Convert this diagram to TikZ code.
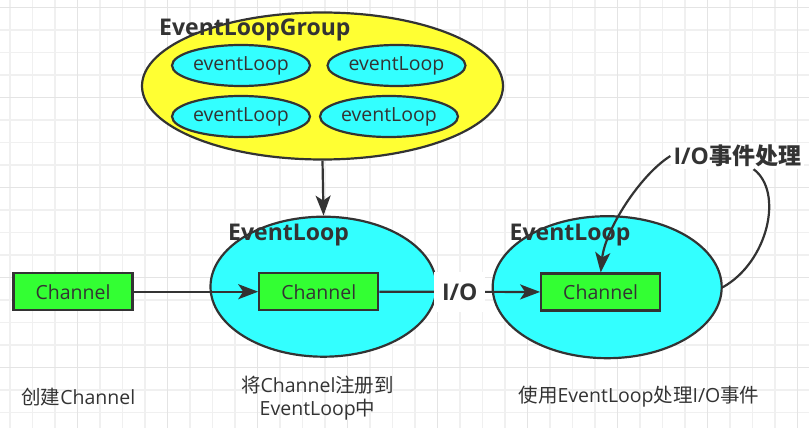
\documentclass[tikz,border=0pt]{standalone}
\usepackage{fontspec}
\setmainfont{Open Sans}
\newfontfamily\cjk{Noto Sans CJK SC}
\usetikzlibrary{shapes.geometric,arrows.meta}
\definecolor{edgec}{HTML}{333333}
\definecolor{txtc}{HTML}{333333}
\definecolor{yellowc}{HTML}{FFFF33}
\definecolor{cyanc}{HTML}{33FFFF}
\definecolor{greenc}{HTML}{33FF33}
\definecolor{gridminor}{HTML}{F0F0F0}
\definecolor{gridmajor}{HTML}{E4E4E4}
\begin{document}
\begin{tikzpicture}[x=1pt,y=-1pt,
  ell/.style={ellipse, draw=edgec, line width=2.2pt, inner sep=0pt},
  small/.style={ell, fill=cyanc, minimum width=138pt, minimum height=41pt,
     text=txtc, font=\fontsize{19.5}{22}\selectfont},
  chbox/.style={rectangle, draw=edgec, line width=2.2pt, fill=greenc,
     minimum width=119pt, minimum height=37pt, inner sep=0pt,
     text=txtc, font=\fontsize{19.5}{22}\selectfont},
  boldlbl/.style={text=txtc, inner sep=0pt, font=\fontsize{23}{26}\selectfont\bfseries},
  note/.style={text=txtc, inner sep=0pt, font=\fontsize{19.5}{22.6}\selectfont, align=center},
  arr/.style={draw=edgec, line width=2.2pt, -{Stealth[length=20pt,width=15pt,inset=5pt]}},
  plain/.style={draw=edgec, line width=2.2pt},
  gmin/.style={draw=gridminor, line width=1.2pt},
  gmaj/.style={draw=gridmajor, line width=1.2pt}]
\useasboundingbox (0,0) rectangle (809,428);
\fill[white] (0,0) rectangle (809,428);
% grid
\foreach \i in {0,...,35} \draw[gmin] (10+22.5*\i,0) -- (10+22.5*\i,428);
\foreach \i in {0,...,18} \draw[gmin] (0,7.5+22.5*\i) -- (809,7.5+22.5*\i);
\foreach \i in {0,...,8} \draw[gmaj] (77.5+90*\i,0) -- (77.5+90*\i,428);
\foreach \i in {0,...,4} \draw[gmaj] (0,7.5+90*\i) -- (809,7.5+90*\i);

% EventLoopGroup
\node[ell, fill=yellowc, minimum width=361pt, minimum height=147pt] (grp) at (322.5,86) {};
\node[boldlbl, anchor=base west] (grpl) at (159,35.5) {EventLoopGroup};
\node[small] (e1) at (241,65.5) {eventLoop};
\node[small] (e2) at (396.5,65.5) {eventLoop};
\node[small] (e3) at (241,116.5) {eventLoop};
\node[small] (e4) at (389,116.5) {eventLoop};

% EventLoops
\node[ell, fill=cyanc, minimum width=226pt, minimum height=140pt] (el1) at (323.5,286.7) {};
\node[boldlbl, anchor=base west] (el1l) at (228,240) {EventLoop};
\node[ell, fill=cyanc, minimum width=229pt, minimum height=142pt] (el2) at (607.2,287.2) {};
\node[boldlbl, anchor=base west] (el2l) at (509.5,240) {EventLoop};

% Channels
\node[chbox] (ch1) at (73,291.7) {Channel};
\node[chbox] (ch2) at (318.8,291.7) {Channel};
\node[chbox] (ch3) at (600.7,292) {Channel};

% I/O event label
\node[boldlbl, fill=white, inner xsep=3pt, inner ysep=2pt] (io2) at (737.3,156) {I/O{\cjk 事件处理}};

% connectors
\draw[arr] (grp.south) -- (el1.north);
\draw[arr] (ch1) -- (ch2);
\draw[arr] (ch2) -- node[boldlbl, fill=white, inner xsep=8pt, minimum height=40pt] (io1) {I/O} (ch3);
\draw[plain] (el2.east) .. controls (768,262) and (784,192) .. (io2.-39);
\draw[arr] (io2.west) .. controls (640,175) and (605,230) .. (ch3.north);

% notes
\node[note] (n1) at (78.3,397) {{\cjk 创建}Channel};
\node[note] (n2) at (317.5,398) {{\cjk 将}Channel{\cjk 注册到}\\EventLoop{\cjk 中}};
\node[note] (n3) at (639,397) {{\cjk 使用}EventLoop{\cjk 处理}I/O{\cjk 事件}};
\end{tikzpicture}
\end{document}
